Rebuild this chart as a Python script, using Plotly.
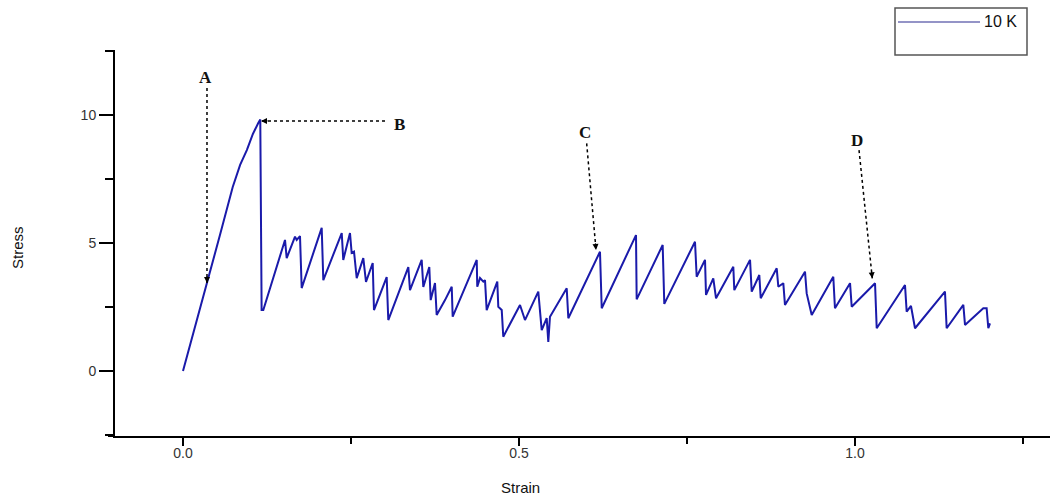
import plotly.graph_objects as go

# ---- data ----
strain = [0.000, 0.018, 0.036, 0.055, 0.074, 0.085, 0.095, 0.104, 0.112, 0.115, 0.117,
          0.1195, 0.1518, 0.1543, 0.1667, 0.1692, 0.1741, 0.1766, 0.2064, 0.2088, 0.2362,
          0.2385, 0.2485, 0.2510, 0.2545, 0.2585, 0.2683, 0.2723, 0.2823, 0.2842, 0.3031,
          0.3055, 0.3353, 0.3378, 0.3552, 0.3576, 0.3665, 0.3686, 0.3750, 0.3775, 0.3899,
          0.3999, 0.4013, 0.4371, 0.4379, 0.4420, 0.4469, 0.4494, 0.4519, 0.4677, 0.4692,
          0.4743, 0.4766, 0.5015, 0.5089, 0.5287, 0.5338, 0.5412, 0.5436, 0.5461, 0.5710,
          0.5734, 0.6205, 0.6231, 0.6741, 0.6751, 0.7138, 0.7162, 0.7619, 0.7644, 0.7768,
          0.7783, 0.7891, 0.7932, 0.8189, 0.8204, 0.8438, 0.8463, 0.8576, 0.8597, 0.8835,
          0.8859, 0.8933, 0.8958, 0.9256, 0.9281, 0.9356, 0.9677, 0.9702, 0.9926, 0.9951,
          1.0298, 1.0323, 1.0744, 1.0769, 1.0833, 1.0893, 1.1339, 1.1364, 1.1612, 1.1637,
          1.1909, 1.1959, 1.1984, 1.2009]
stress = [0.00, 1.72, 3.44, 5.31, 7.19, 8.05, 8.63, 9.26, 9.69, 9.82, 2.38,
          2.38, 5.12, 4.41, 5.25, 5.12, 5.27, 3.24, 5.59, 3.55, 5.39,
          4.34, 5.39, 4.61, 4.66, 3.63, 4.41, 3.48, 4.22, 2.38, 3.67,
          1.99, 4.06, 3.16, 4.34, 3.28, 4.06, 2.77, 3.44, 2.19, 2.77,
          3.29, 2.12, 4.34, 3.29, 3.63, 3.49, 3.55, 2.38, 3.49, 2.51,
          2.38, 1.34, 2.58, 1.99, 3.10, 1.60, 2.07, 1.14, 2.12, 3.23,
          2.06, 4.66, 2.45, 5.31, 2.80, 4.92, 2.62, 5.05, 3.68, 4.34,
          2.97, 3.62, 2.84, 4.07, 3.16, 4.34, 3.10, 3.75, 2.84, 4.01,
          3.29, 3.43, 2.58, 3.88, 3.03, 2.19, 3.68, 2.45, 3.43, 2.51,
          3.43, 1.67, 3.36, 2.32, 2.54, 1.67, 3.10, 1.67, 2.58, 1.80,
          2.45, 2.45, 1.67, 1.86]

x_tickvals = [0.0, 0.5, 1.0]
x_ticktext = ["0.0", "0.5", "1.0"]
y_tickvals = [0, 5, 10]
y_ticktext = ["0", "5", "10"]

series_name = "10 K"

# annotation labels and their dotted pointer lines (data coordinates)
point_labels = ["A", "B", "C", "D"]
label_x = [0.033, 0.3229, 0.598, 1.003]
label_y = [11.45, 9.61, 9.30, 9.02]
line_x0 = [0.0357, 0.3006, 0.6007, 1.006]
line_y0 = [11.05, 9.77, 8.89, 8.63]
tip_x = [0.0357, 0.1161, 0.6146, 1.0257]
tip_y = [3.44, 9.77, 4.73, 3.62]
tip_ax = [0, 8, -0.7, -0.8]
tip_ay = [-8, 0, -8, -8]

LINE_COLOR = "#1a1aaa"
W, H = 1052, 498
ML, MR, MT, MB = 115, 2, 50, 62
PW, PH = W - ML - MR, H - MT - MB

def px_to_paper_x(px):
    return (px - ML) / PW

def px_to_paper_y(py):
    return (H - MB - py) / PH

fig = go.Figure()
fig.add_trace(go.Scatter(x=strain, y=stress, mode="lines", name=series_name,
                         line=dict(color=LINE_COLOR, width=2), showlegend=False))

shapes = []
annotations = []
for i, lab in enumerate(point_labels):
    shapes.append(dict(type="line", xref="x", yref="y", x0=line_x0[i], y0=line_y0[i],
                       x1=tip_x[i], y1=tip_y[i], line=dict(color="black", width=1.5, dash="dot")))
    annotations.append(dict(x=tip_x[i], y=tip_y[i], xref="x", yref="y", ax=tip_ax[i], ay=tip_ay[i],
                            showarrow=True, arrowhead=2, arrowsize=1, arrowwidth=1.2,
                            arrowcolor="black", text="", standoff=0))
    annotations.append(dict(x=label_x[i], y=label_y[i], xref="x", yref="y", text="<b>%s</b>" % lab,
                            showarrow=False, xanchor="center", yanchor="middle",
                            font=dict(family="Liberation Serif, Times New Roman, serif",
                                      size=17, color="#111")))

# custom legend box
shapes.append(dict(type="rect", xref="paper", yref="paper",
                   x0=px_to_paper_x(895), x1=px_to_paper_x(1027),
                   y0=px_to_paper_y(55), y1=px_to_paper_y(8),
                   line=dict(color="#555", width=1.5), fillcolor="white"))
shapes.append(dict(type="line", xref="paper", yref="paper",
                   x0=px_to_paper_x(898), x1=px_to_paper_x(980),
                   y0=px_to_paper_y(22), y1=px_to_paper_y(22),
                   line=dict(color="#2a2a90", width=1.2)))
annotations.append(dict(x=px_to_paper_x(982), y=px_to_paper_y(22), xref="paper", yref="paper",
                        xanchor="left", yanchor="middle", text=series_name, showarrow=False,
                        font=dict(family="Liberation Sans, Arial, sans-serif", size=16, color="#111")))
# x axis line stub extending left of y axis
shapes.append(dict(type="line", xref="paper", yref="paper", x0=px_to_paper_x(108), x1=0,
                   y0=0, y1=0, line=dict(color="black", width=2)))

# axis titles
annotations.append(dict(x=px_to_paper_x(17), y=px_to_paper_y(248), xref="paper", yref="paper",
                        xanchor="center", yanchor="middle",
                        text="Stress", textangle=-90, showarrow=False,
                        font=dict(family="Liberation Sans, Arial, sans-serif", size=15, color="#111")))
annotations.append(dict(x=px_to_paper_x(520), y=px_to_paper_y(487), xref="paper", yref="paper",
                        xanchor="center", yanchor="middle",
                        text="Strain", showarrow=False,
                        font=dict(family="Liberation Sans, Arial, sans-serif", size=15, color="#111")))

tickfont = dict(family="Liberation Sans, Arial, sans-serif", size=14, color="#333")

fig.update_layout(
    width=W, height=H,
    margin=dict(l=ML, r=MR, t=MT, b=MB, pad=0),
    paper_bgcolor="white", plot_bgcolor="white",
    shapes=shapes, annotations=annotations,
    xaxis=dict(range=[(ML - 183) / 672, (W - MR - 183) / 672], showgrid=False, zeroline=False,
               showline=True, linecolor="black", linewidth=2,
               tickvals=x_tickvals, ticktext=x_ticktext, ticks="outside", ticklen=8,
               tickwidth=2, tickcolor="black", tickfont=tickfont, ticklabelstandoff=-5,
               minor=dict(dtick=0.25, tick0=0, ticks="outside", ticklen=6, tickwidth=2, tickcolor="black")),
    yaxis=dict(range=[-(H - MB - 371) / 25.6, (371 - MT) / 25.6], showgrid=False, zeroline=False,
               showline=True, linecolor="black", linewidth=2,
               tickvals=y_tickvals, ticktext=y_ticktext, ticks="outside", ticklen=14,
               tickwidth=2, tickcolor="black", tickfont=tickfont,
               minor=dict(dtick=2.5, tick0=0, ticks="outside", ticklen=8, tickwidth=2, tickcolor="black")),
)

fig.write_html("out.html")
